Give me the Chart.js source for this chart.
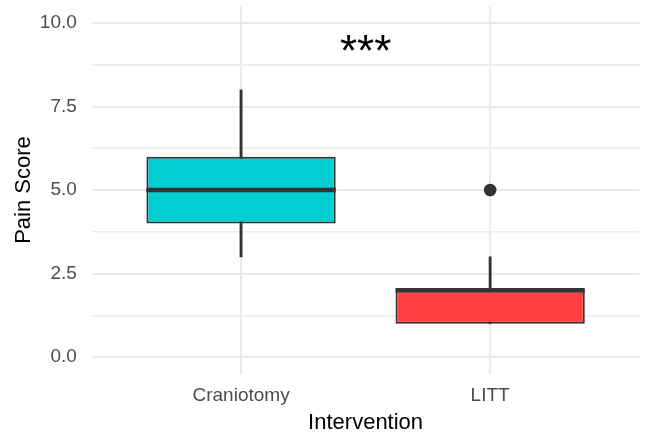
<!DOCTYPE html>
<html>
<head>
<meta charset="utf-8">
<script src="https://cdn.jsdelivr.net/npm/chart.js@4/dist/chart.umd.min.js"></script>
<style>
  html, body { margin: 0; padding: 0; background: #fff; }
  #wrap { width: 648px; height: 437px; }
</style>
</head>
<body>
<div id="wrap"><canvas id="painChart"></canvas></div>
<script>
// Pain score by intervention - box plot summaries
const groups = ['Craniotomy', 'LITT'];
const whiskerLow = [3, 1];
const q1 = [4, 1];
const medians = [5, 2];
const q3 = [6, 2];
const whiskerHigh = [8, 3];
const outlierGroups = [2];          // 1-based group position
const outlierValues = [5];
const yMajorTicks = [0, 2.5, 5, 7.5, 10];
const yMinorTicks = [1.25, 3.75, 6.25, 8.75];
const boxColors = ['#00CED1', '#FF4040'];
const signifLabel = '***';
const signifPos = 1.5;              // between the two groups
const signifValue = 9.4;

const FONT = '"Liberation Sans", Arial, Helvetica, sans-serif';
const GRID = '#EBEBEB';
const INK = '#333333';

// median line drawn across each box, using the box element geometry
const medianPlugin = {
    id: 'medianLines',
    afterDatasetsDraw(chart) {
        const meta = chart.getDatasetMeta(0);
        const y = chart.scales.y;
        const ctx = chart.ctx;
        ctx.save();
        ctx.strokeStyle = INK;
        ctx.lineWidth = 4.5;
        meta.data.forEach((bar, i) => {
            const py = y.getPixelForValue(medians[i]);
            ctx.beginPath();
            ctx.moveTo(bar.x - bar.width / 2, py);
            ctx.lineTo(bar.x + bar.width / 2, py);
            ctx.stroke();
        });
        ctx.restore();
    }
};

// significance stars
const signifPlugin = {
    id: 'signif',
    afterDraw(chart) {
        const ctx = chart.ctx;
        const px = chart.scales.x.getPixelForValue(signifPos);
        const py = chart.scales.y.getPixelForValue(signifValue);
        ctx.save();
        ctx.fillStyle = '#000';
        ctx.font = '44px ' + FONT;
        ctx.textAlign = 'center';
        ctx.textBaseline = 'alphabetic';
        ctx.fillText(signifLabel, px, py + 0.53 * 44);
        ctx.restore();
    }
};

new Chart(document.getElementById('painChart'), {
    type: 'bar',
    data: {
        datasets: [
            {
                label: 'box',
                data: groups.map((g, i) => ({ x: i + 1, y: [q1[i], q3[i]] })),
                backgroundColor: boxColors,
                borderColor: INK,
                borderWidth: 2,
                borderSkipped: false,
                grouped: false,
                order: 0,
                categoryPercentage: 1,
                barPercentage: 0.76
            },
            {
                label: 'whisker',
                data: groups.map((g, i) => ({ x: i + 1, y: [whiskerLow[i], whiskerHigh[i]] })),
                backgroundColor: INK,
                borderWidth: 0,
                grouped: false,
                order: 1,
                barThickness: 2.2
            },
            {
                type: 'scatter',
                label: 'outlier',
                data: outlierGroups.map((g, i) => ({ x: g, y: outlierValues[i] })),
                backgroundColor: INK,
                borderWidth: 0,
                order: 0,
                pointRadius: 6.3
            }
        ]
    },
    options: {
        responsive: true,
        maintainAspectRatio: false,
        animation: false,
        layout: { padding: { left: 0, right: 8.4, top: 4.2, bottom: 0 } },
        plugins: {
            legend: { display: false },
            tooltip: { enabled: false }
        },
        scales: {
            x: {
                type: 'linear',
                min: 0.4,
                max: 2.6,
                offset: false,
                afterBuildTicks: s => { s.ticks = groups.map((g, i) => ({ value: i + 1 })); },
                afterFit: s => { s.height = 63.2; s.paddingLeft = 0; s.paddingRight = 0; },
                grid: { color: GRID, lineWidth: 2, drawTicks: false, offset: false },
                border: { display: false },
                ticks: {
                    color: '#4D4D4D',
                    font: { family: FONT, size: 19 },
                    padding: 11,
                    maxRotation: 0,
                    autoSkip: false,
                    callback: v => groups[v - 1]
                },
                title: {
                    display: true,
                    text: 'Intervention',
                    color: '#000',
                    font: { family: FONT, size: 22 },
                    padding: { top: 0, bottom: 1 }
                }
            },
            y: {
                min: -0.5,
                max: 10.5,
                afterBuildTicks: s => {
                    s.ticks = yMajorTicks.concat(yMinorTicks).sort((a, b) => a - b).map(v => ({ value: v }));
                },
                afterFit: s => { s.width = 91.6; s.paddingTop = 0; s.paddingBottom = 0; },
                grid: {
                    color: GRID,
                    lineWidth: c => (yMajorTicks.includes(c.tick && c.tick.value) ? 2 : 1.6),
                    drawTicks: false
                },
                border: { display: false },
                ticks: {
                    color: '#4D4D4D',
                    font: { family: FONT, size: 19 },
                    padding: 14.8,
                    autoSkip: false,
                    callback: v => (yMajorTicks.includes(v) ? v.toFixed(1) : '')
                },
                title: {
                    display: true,
                    text: 'Pain Score',
                    color: '#000',
                    font: { family: FONT, size: 22 },
                    padding: { top: 11, bottom: 0 }
                }
            }
        }
    },
    plugins: [medianPlugin, signifPlugin]
});
</script>
</body>
</html>
